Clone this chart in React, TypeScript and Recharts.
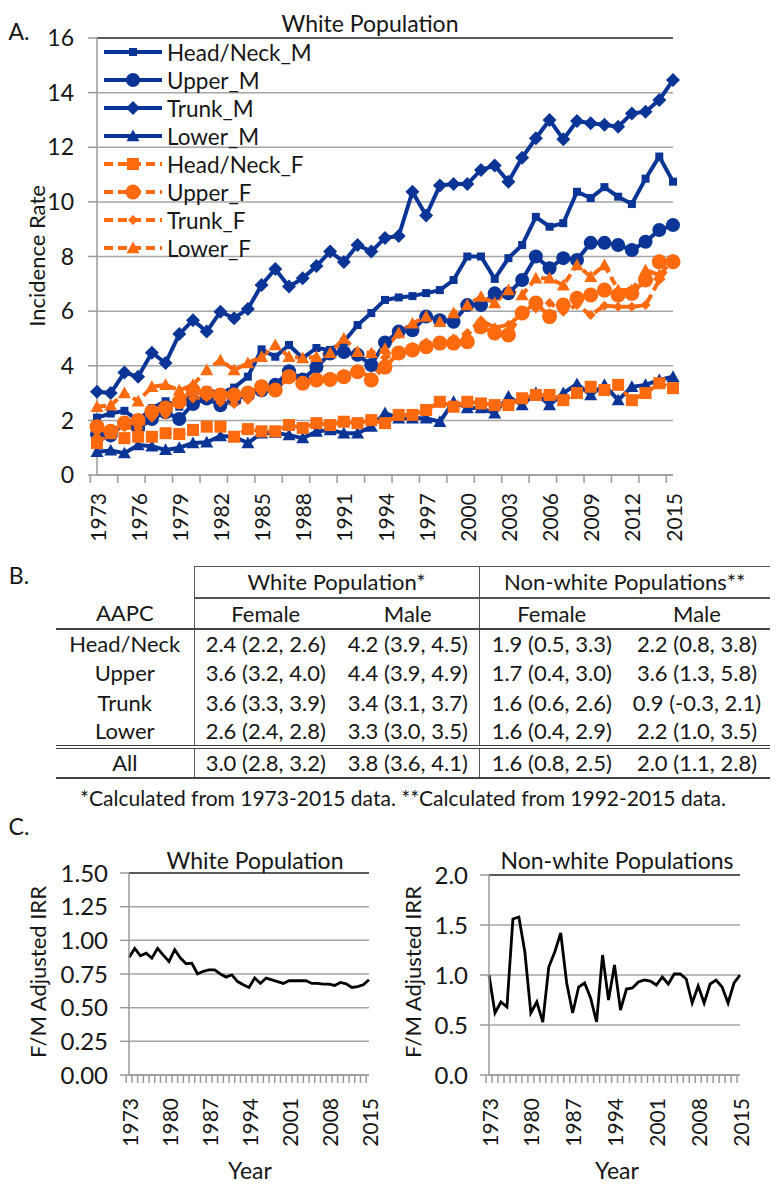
import React from 'react';
import { LineChart, Line, XAxis, YAxis, CartesianGrid, ReferenceLine } from 'recharts';

// categories
const years = [
  '1973', '1974', '1975', '1976', '1977', '1978', '1979', '1980', '1981', '1982', '1983',
  '1984', '1985', '1986', '1987', '1988', '1989', '1990', '1991', '1992', '1993', '1994',
  '1995', '1996', '1997', '1998', '1999', '2000', '2001', '2002', '2003', '2004', '2005',
  '2006', '2007', '2008', '2009', '2010', '2011', '2012', '2013', '2014', '2015',
];

// Panel A: incidence rates, white population
const headNeckM = [2.1, 2.25, 2.35, 2.0, 2.45, 2.7, 2.5, 2.95, 3.1, 3.0, 3.2, 3.6, 4.6, 4.33, 4.76, 4.28, 4.65, 4.58, 4.88, 5.49, 5.93, 6.41, 6.5, 6.55, 6.66, 6.77, 7.14, 8.0, 8.0, 7.18, 7.94, 8.42, 9.45, 9.09, 9.22, 10.37, 10.14, 10.54, 10.19, 9.92, 10.85, 11.66, 10.74];
const upperM = [1.5, 1.45, 1.9, 1.7, 2.05, 2.3, 2.05, 2.6, 2.8, 2.55, 2.75, 2.95, 3.1, 3.3, 3.8, 3.5, 3.95, 4.45, 4.5, 4.4, 4.03, 4.85, 5.25, 5.3, 5.8, 5.67, 5.61, 6.22, 6.22, 6.65, 6.65, 7.14, 8.0, 7.57, 7.94, 7.87, 8.5, 8.5, 8.42, 8.24, 8.54, 8.97, 9.15];
const trunkM = [3.05, 3.0, 3.75, 3.6, 4.48, 4.1, 5.16, 5.67, 5.25, 5.98, 5.74, 6.08, 6.96, 7.54, 6.9, 7.2, 7.65, 8.18, 7.8, 8.42, 8.18, 8.68, 8.75, 10.37, 9.5, 10.6, 10.65, 10.65, 11.17, 11.33, 10.74, 11.62, 12.33, 13.0, 12.29, 12.96, 12.88, 12.82, 12.75, 13.24, 13.3, 13.73, 14.46];
const lowerM = [0.85, 0.9, 0.8, 1.1, 1.05, 0.92, 1.0, 1.17, 1.2, 1.43, 1.4, 1.17, 1.53, 1.55, 1.46, 1.35, 1.59, 1.65, 1.53, 1.53, 1.77, 2.27, 2.08, 2.08, 2.08, 1.95, 2.68, 2.45, 2.45, 2.26, 2.87, 2.56, 3.0, 2.56, 3.0, 3.33, 2.93, 3.3, 2.74, 3.23, 3.3, 3.48, 3.6];
const headNeckF = [1.17, 1.53, 1.35, 1.4, 1.4, 1.53, 1.5, 1.65, 1.77, 1.77, 1.4, 1.68, 1.6, 1.6, 1.83, 1.72, 1.9, 1.83, 1.95, 1.9, 2.01, 1.9, 2.2, 2.2, 2.38, 2.68, 2.5, 2.68, 2.62, 2.56, 2.56, 2.81, 2.93, 2.93, 2.74, 3.0, 3.23, 3.11, 3.3, 2.74, 3.0, 3.36, 3.18];
const upperF = [1.77, 1.6, 1.9, 2.0, 2.32, 2.45, 2.68, 3.11, 3.0, 2.93, 2.93, 3.0, 3.23, 3.11, 3.6, 3.36, 3.48, 3.5, 3.6, 3.78, 3.48, 3.95, 4.47, 4.58, 4.7, 4.83, 4.83, 4.88, 5.43, 5.2, 5.13, 5.93, 6.3, 5.8, 6.22, 6.47, 6.59, 6.77, 6.59, 6.65, 7.14, 7.81, 7.81];
const trunkF = [1.4, 1.55, 1.75, 1.7, 2.1, 2.2, 2.95, 2.8, 2.85, 2.65, 2.6, 2.75, 3.0, 3.2, 3.5, 3.35, 3.55, 3.6, 3.7, 3.8, 3.6, 4.3, 4.5, 4.7, 4.85, 4.9, 5.0, 5.2, 5.67, 5.4, 5.5, 5.9, 6.1, 6.3, 5.98, 6.22, 5.86, 6.2, 6.16, 6.16, 6.22, 7.14, 7.8];
const lowerF = [2.5, 2.55, 3.0, 2.7, 3.23, 3.3, 3.1, 3.3, 3.84, 4.2, 3.84, 4.1, 4.33, 4.76, 4.33, 4.28, 4.33, 4.47, 5.0, 4.51, 4.47, 4.62, 5.2, 5.55, 5.8, 5.61, 5.93, 6.22, 6.53, 6.3, 6.77, 6.59, 7.2, 7.2, 6.95, 7.69, 7.26, 7.69, 6.77, 6.77, 7.5, 7.32, 7.87];

// Panel C: F/M adjusted IRR
const irrWhite = [0.873, 0.94, 0.885, 0.905, 0.868, 0.94, 0.89, 0.843, 0.93, 0.868, 0.826, 0.83, 0.75, 0.77, 0.78, 0.78, 0.75, 0.727, 0.744, 0.694, 0.67, 0.65, 0.72, 0.68, 0.72, 0.707, 0.694, 0.68, 0.7, 0.7, 0.7, 0.7, 0.68, 0.68, 0.675, 0.675, 0.665, 0.687, 0.677, 0.65, 0.657, 0.67, 0.707];
const irrNonWhite = [1.0, 0.62, 0.73, 0.68, 1.56, 1.58, 1.23, 0.62, 0.73, 0.53, 1.08, 1.23, 1.42, 0.92, 0.62, 0.88, 0.92, 0.77, 0.53, 1.2, 0.75, 1.1, 0.65, 0.86, 0.87, 0.93, 0.95, 0.94, 0.9, 0.98, 0.91, 1.01, 1.01, 0.96, 0.72, 0.89, 0.72, 0.91, 0.95, 0.88, 0.72, 0.92, 1.0];

// tick labels
const ticksA = [0, 2, 4, 6, 8, 10, 12, 14, 16];
const ticksWhite = [0, 0.25, 0.5, 0.75, 1.0, 1.25, 1.5];
const ticksNonWhite = [0, 0.5, 1.0, 1.5, 2.0];

// Panel B: AAPC table
const sites = ['Head/Neck', 'Upper', 'Trunk', 'Lower'];
const whiteFemale = ['2.4 (2.2, 2.6)', '3.6 (3.2, 4.0)', '3.6 (3.3, 3.9)', '2.6 (2.4, 2.8)'];
const whiteMale = ['4.2 (3.9, 4.5)', '4.4 (3.9, 4.9)', '3.4 (3.1, 3.7)', '3.3 (3.0, 3.5)'];
const nonWhiteFemale = ['1.9 (0.5, 3.3)', '1.7 (0.4, 3.0)', '1.6 (0.6, 2.6)', '1.6 (0.4, 2.9)'];
const nonWhiteMale = ['2.2 (0.8, 3.8)', '3.6 (1.3, 5.8)', '0.9 (-0.3, 2.1)', '2.2 (1.0, 3.5)'];
const allRow = ['3.0 (2.8, 3.2)', '3.8 (3.6, 4.1)', '1.6 (0.8, 2.5)', '2.0 (1.1, 2.8)'];

const BLUE = '#0A3597';
const ORANGE = '#FF6A0E';
const GRID = '#A6A6A6';
const AXIS = '#9A9A9A';
const BORDER = '#3A3A3A';
const TEXT = '#161616';
const FONT = 'Lato, "Open Sans", sans-serif';

type Shape = 'square' | 'circle' | 'diamond' | 'triangle';

const SERIES: { key: string; name: string; color: string; shape: Shape; size: number; dashed: boolean }[] = [
  { key: 'headNeckM', name: 'Head/Neck_M', color: BLUE, shape: 'square', size: 8, dashed: false },
  { key: 'upperM', name: 'Upper_M', color: BLUE, shape: 'circle', size: 14, dashed: false },
  { key: 'trunkM', name: 'Trunk_M', color: BLUE, shape: 'diamond', size: 14, dashed: false },
  { key: 'lowerM', name: 'Lower_M', color: BLUE, shape: 'triangle', size: 13, dashed: false },
  { key: 'headNeckF', name: 'Head/Neck_F', color: ORANGE, shape: 'square', size: 12, dashed: true },
  { key: 'upperF', name: 'Upper_F', color: ORANGE, shape: 'circle', size: 15, dashed: true },
  { key: 'trunkF', name: 'Trunk_F', color: ORANGE, shape: 'diamond', size: 10, dashed: true },
  { key: 'lowerF', name: 'Lower_F', color: ORANGE, shape: 'triangle', size: 13, dashed: true },
];

const incidenceData = years.map((year, i) => ({
  year,
  headNeckM: headNeckM[i],
  upperM: upperM[i],
  trunkM: trunkM[i],
  lowerM: lowerM[i],
  headNeckF: headNeckF[i],
  upperF: upperF[i],
  trunkF: trunkF[i],
  lowerF: lowerF[i],
}));

const irrData = years.map((year, i) => ({ year, white: irrWhite[i], nonWhite: irrNonWhite[i] }));

const Marker = ({ shape, cx, cy, size, color }: { shape: Shape; cx: number; cy: number; size: number; color: string }) => {
  const h = size / 2;
  if (shape === 'square') return <rect x={cx - h} y={cy - h} width={size} height={size} fill={color} />;
  if (shape === 'circle') return <circle cx={cx} cy={cy} r={h} fill={color} />;
  if (shape === 'diamond')
    return <polygon points={`${cx},${cy - h} ${cx + h},${cy} ${cx},${cy + h} ${cx - h},${cy}`} fill={color} />;
  return <polygon points={`${cx},${cy - h} ${cx + h},${cy + h * 0.8} ${cx - h},${cy + h * 0.8}`} fill={color} />;
};

type TickCfg = { band: number; axisY: number; markEvery: number; labelEvery: number; markLen: number; gap: number; fontSize: number };

// Excel-like category ticks: marks at category boundaries, labels every n years
const YearTick = (props: any) => {
  const { x, payload, cfg } = props;
  const c: TickCfg = cfg;
  const i: number = props.index ?? payload?.index ?? 0;
  const bx = x - c.band / 2;
  const ty = c.axisY + c.gap;
  return (
    <g>
      {i % c.markEvery === 0 && (
        <line x1={bx} x2={bx} y1={c.axisY} y2={c.axisY + c.markLen} stroke={AXIS} strokeWidth={1.5} />
      )}
      {i % c.labelEvery === 0 && (
        <text
          x={x}
          y={ty}
          transform={`rotate(-90, ${x}, ${ty})`}
          textAnchor="end"
          dominantBaseline="central"
          fontSize={c.fontSize}
          fill={TEXT}
        >
          {payload.value}
        </text>
      )}
    </g>
  );
};

const Rotated = ({ x, y, size, children }: { x: number; y: number; size: number; children: React.ReactNode }) => (
  <div
    style={{
      position: 'absolute',
      left: x,
      top: y,
      transform: 'translate(-50%, -50%) rotate(-90deg)',
      whiteSpace: 'nowrap',
      fontSize: size,
    }}
  >
    {children}
  </div>
);

const Centered = ({ x, y, size, children }: { x: number; y: number; size: number; children: React.ReactNode }) => (
  <div style={{ position: 'absolute', left: x, top: y, transform: 'translate(-50%, -50%)', whiteSpace: 'nowrap', fontSize: size }}>
    {children}
  </div>
);

// layout of the three charts
const A = { w: 780, h: 560, m: { top: 38, right: 107, bottom: 0, left: 40 }, yw: 57, xh: 85 };
const CW = { w: 390, h: 350, m: { top: 33, right: 21, bottom: 0, left: 10 }, yw: 119, xh: 115 };
const CN = { w: 390, h: 350, m: { top: 35, right: 40, bottom: 0, left: 10 }, yw: 89, xh: 115 };

const band = (c: typeof A) => (c.w - c.m.left - c.m.right - c.yw) / years.length;
const axisY = (c: typeof A) => c.h - c.m.bottom - c.xh;

const IncidenceChart = () => {
  const cfg: TickCfg = { band: band(A), axisY: axisY(A), markEvery: 2, labelEvery: 3, markLen: 8, gap: 18, fontSize: 21 };
  return (
    <LineChart width={A.w} height={A.h} data={incidenceData} margin={A.m}>
      <CartesianGrid vertical={false} stroke={GRID} strokeWidth={1.5} />
      <XAxis
        dataKey="year"
        interval={0}
        height={A.xh}
        tickLine={false}
        axisLine={{ stroke: AXIS, strokeWidth: 1.5 }}
        tick={(p: any) => <YearTick {...p} cfg={cfg} />}
      />
      <YAxis
        domain={[0, 16]}
        ticks={ticksA}
        width={A.yw}
        tickSize={9}
        tickMargin={14}
        tickLine={{ stroke: AXIS, strokeWidth: 1.5 }}
        axisLine={{ stroke: AXIS, strokeWidth: 1.5 }}
        tick={{ fontSize: 23, fill: TEXT }}
      />
      <YAxis yAxisId="frame" orientation="right" width={0} tick={false} tickLine={false} axisLine={{ stroke: BORDER, strokeWidth: 1.5 }} />
      <ReferenceLine y={16} stroke={BORDER} strokeWidth={1.5} />
      {SERIES.map((s) => (
        <Line
          key={s.key}
          type="linear"
          dataKey={s.key}
          name={s.name}
          stroke={s.color}
          strokeWidth={4}
          strokeDasharray={s.dashed ? '9 5' : undefined}
          activeDot={false}
          isAnimationActive={false}
          dot={(p: any) => (
            <Marker key={`${s.key}-${p.index}`} shape={s.shape} cx={p.cx} cy={p.cy} size={s.size} color={s.color} />
          )}
        />
      ))}
    </LineChart>
  );
};

const IrrChart = ({ c, dataKey, ticks, digits }: { c: typeof A; dataKey: string; ticks: number[]; digits: number }) => {
  const cfg: TickCfg = { band: band(c), axisY: axisY(c), markEvery: 1, labelEvery: 7, markLen: 8, gap: 23, fontSize: 21 };
  const top = ticks[ticks.length - 1];
  return (
    <LineChart width={c.w} height={c.h} data={irrData} margin={c.m}>
      <CartesianGrid vertical={false} stroke={GRID} strokeWidth={1.5} />
      <XAxis
        dataKey="year"
        interval={0}
        height={c.xh}
        tickLine={false}
        axisLine={{ stroke: AXIS, strokeWidth: 1.5 }}
        tick={(p: any) => <YearTick {...p} cfg={cfg} />}
      />
      <YAxis
        domain={[0, top]}
        ticks={ticks}
        width={c.yw}
        tickSize={9}
        tickMargin={12}
        tickFormatter={(v: number) => v.toFixed(digits)}
        tickLine={{ stroke: AXIS, strokeWidth: 1.5 }}
        axisLine={{ stroke: AXIS, strokeWidth: 1.5 }}
        tick={{ fontSize: 24, fill: TEXT }}
      />
      <YAxis yAxisId="frame" orientation="right" width={0} tick={false} tickLine={false} axisLine={{ stroke: BORDER, strokeWidth: 1.5 }} />
      <ReferenceLine y={top} stroke={BORDER} strokeWidth={1.5} />
      <Line type="linear" dataKey={dataKey} stroke="#000" strokeWidth={2.8} dot={false} activeDot={false} isAnimationActive={false} />
    </LineChart>
  );
};

const Legend = () => (
  <div style={{ position: 'absolute', left: 102, top: 38, fontSize: 22.5 }}>
    {SERIES.map((s) => (
      <div key={s.key} style={{ display: 'flex', alignItems: 'center', height: 28 }}>
        <svg width={62} height={28}>
          <line x1={2} x2={60} y1={14} y2={14} stroke={s.color} strokeWidth={4} strokeDasharray={s.dashed ? '9 5' : undefined} />
          <Marker shape={s.shape} cx={31} cy={14} size={s.size} color={s.color} />
        </svg>
        <span style={{ marginLeft: 3 }}>{s.name}</span>
      </div>
    ))}
  </div>
);

const cell: React.CSSProperties = { padding: 0, textAlign: 'center', whiteSpace: 'nowrap' };
const vline = '1.5px solid #555';

const AapcTable = () => (
  <table
    style={{
      position: 'absolute',
      left: 56,
      top: 566,
      width: 714,
      borderCollapse: 'collapse',
      tableLayout: 'fixed',
      fontSize: 22,
    }}
  >
    <colgroup>
      <col style={{ width: 138 }} />
      <col style={{ width: 143 }} />
      <col style={{ width: 142 }} />
      <col style={{ width: 145 }} />
      <col style={{ width: 146 }} />
    </colgroup>
    <tbody>
      <tr style={{ height: 31 }}>
        <td style={{ ...cell, borderRight: vline }} />
        <td colSpan={2} style={{ ...cell, borderTop: vline, borderBottom: '2px solid #555', borderRight: vline }}>
          White Population*
        </td>
        <td colSpan={2} style={{ ...cell, borderTop: vline, borderBottom: '2px solid #555' }}>
          Non-white Populations**
        </td>
      </tr>
      <tr style={{ height: 31, borderBottom: '2.5px solid #444' }}>
        <td style={{ ...cell, borderRight: vline }}>AAPC</td>
        <td style={cell}>Female</td>
        <td style={{ ...cell, borderRight: vline }}>Male</td>
        <td style={cell}>Female</td>
        <td style={cell}>Male</td>
      </tr>
      {sites.map((site, i) => (
        <tr key={site} style={{ height: 29.5 }}>
          <td style={{ ...cell, borderRight: vline }}>{site}</td>
          <td style={cell}>{whiteFemale[i]}</td>
          <td style={{ ...cell, borderRight: vline }}>{whiteMale[i]}</td>
          <td style={cell}>{nonWhiteFemale[i]}</td>
          <td style={cell}>{nonWhiteMale[i]}</td>
        </tr>
      ))}
      <tr style={{ height: 31, borderTop: '4px double #444', borderBottom: '2.5px solid #444' }}>
        <td style={{ ...cell, borderRight: vline }}>All</td>
        <td style={cell}>{allRow[0]}</td>
        <td style={{ ...cell, borderRight: vline }}>{allRow[1]}</td>
        <td style={cell}>{allRow[2]}</td>
        <td style={cell}>{allRow[3]}</td>
      </tr>
    </tbody>
  </table>
);

export default function App() {
  return (
    <div style={{ position: 'relative', width: 780, height: 1190, fontFamily: FONT, color: TEXT, background: '#fff', overflow: 'hidden' }}>
      <style>{'body{margin:0}'}</style>

      {/* Panel A */}
      <div style={{ position: 'absolute', left: 0, top: 0 }}>
        <IncidenceChart />
      </div>
      <Centered x={19} y={31} size={23}>A.</Centered>
      <Centered x={370} y={23} size={23}>White Population</Centered>
      <Rotated x={36} y={256} size={22}>Incidence Rate</Rotated>
      <Legend />

      {/* Panel B */}
      <Centered x={19} y={575} size={23}>B.</Centered>
      <AapcTable />
      <Centered x={403} y={797} size={21}>
        *Calculated from 1973-2015 data. **Calculated from 1992-2015 data.
      </Centered>

      {/* Panel C */}
      <Centered x={19} y={826} size={23}>C.</Centered>
      <div style={{ position: 'absolute', left: 0, top: 840 }}>
        <IrrChart c={CW} dataKey="white" ticks={ticksWhite} digits={2} />
      </div>
      <div style={{ position: 'absolute', left: 390, top: 840 }}>
        <IrrChart c={CN} dataKey="nonWhite" ticks={ticksNonWhite} digits={1} />
      </div>
      <Centered x={255} y={860} size={23}>White Population</Centered>
      <Centered x={617} y={860} size={23}>Non-white Populations</Centered>
      <Rotated x={37} y={972} size={22}>F/M Adjusted IRR</Rotated>
      <Rotated x={412} y={972} size={22}>F/M Adjusted IRR</Rotated>
      <Centered x={250} y={1170} size={23}>Year</Centered>
      <Centered x={617} y={1170} size={23}>Year</Centered>
    </div>
  );
}
